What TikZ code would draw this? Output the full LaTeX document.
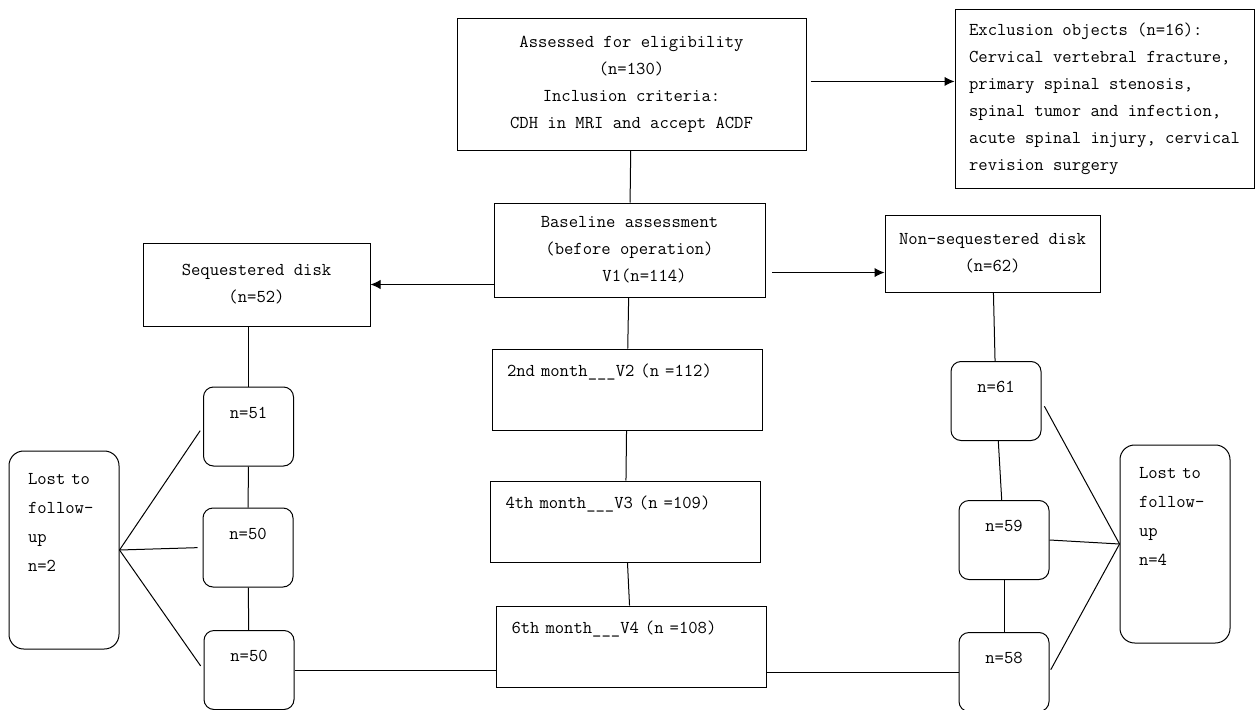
\documentclass[tikz,border=0pt]{standalone}
\usepackage{tikz}
\usetikzlibrary{arrows.meta}
\tikzstyle{blk}=[draw, rectangle, inner sep=0pt, align=center]
\tikzstyle{visit}=[draw, rectangle, inner xsep=11.25pt, inner ysep=0pt, text width=180pt, align=left, text height=20.6pt, text depth=40.15pt]
\tikzstyle{nbox}=[draw, rectangle, rounded corners=7.5pt, inner sep=0pt, text width=67.5pt, align=center, text height=23.6pt, text depth=35.65pt]
\tikzstyle{lost}=[draw, rectangle, rounded corners=11pt, inner xsep=14.25pt, inner ysep=0pt, text width=54pt, align=left, text height=24.75pt, text depth=123.75pt, font=\ttfamily\fontsize{13.6pt}{21.75pt}\selectfont]

\begin{document}
\begin{tikzpicture}
[x=0.75pt, y=-0.75pt, line width=0.75pt, font=\ttfamily\fontsize{13.6pt}{20.25pt}\selectfont]
 \useasboundingbox (0,0) rectangle (1256,710);
 \node[blk, minimum width=261.75pt, minimum height=98.25pt] (assess) at (631.5,84.5) {Assessed for eligibility\\(n=130)\\Inclusion criteria:\\CDH in MRI and accept ACDF};
 \node[blk, align=left, minimum width=224.25pt, minimum height=133.5pt] (excl) at (1104.5,99) {Exclusion objects (n=16):\\Cervical vertebral fracture,\\primary spinal stenosis,\\spinal tumor and infection,\\acute spinal injury, cervical\\revision surgery};
 \node[blk, minimum width=203.25pt, minimum height=70.5pt] (base) at (629.5,250) {Baseline assessment\\(before operation)\\\hspace*{22.5pt}V1(n=114)};
 \node[blk, minimum width=170.25pt, minimum height=62.25pt] (seq) at (256.5,284.5) {Sequestered disk\\(n=52)};
 \node[blk, minimum width=161.25pt, minimum height=57.75pt] (nonseq) at (992.5,253.5) {Non-sequestered disk\\(n=62)};
 \node[visit] (v2) at (627,389.5) {2nd month\_\_\_V2 (n =112)};
 \node[visit] (v3) at (625.5,521.5) {4th month\_\_\_V3 (n =109)};
 \node[visit] (v4) at (631.5,646.5) {6th month\_\_\_V4 (n =108)};
 \node[nbox] (l51) at (248.5,426.5) {n=51};
 \node[nbox] (l50a) at (248,547.5) {n=50};
 \node[nbox] (l50b) at (249,670) {n=50};
 \node[nbox] (r61) at (996,401) {n=61};
 \node[nbox] (r59) at (1004,540) {n=59};
 \node[nbox] (r58) at (1004,672) {n=58};
 \node[lost] (lostl) at (64,550) {Lost to\\follow-\\up\\n=2};
 \node[lost] (lostr) at (1175,544) {Lost to\\follow-\\up\\n=4};
 % arrows out of the two top boxes
 \path[-{Latex[length=7.5pt,width=7pt]}]
   (assess.1.5) edge[shorten <=3pt] (assess.1.5 -| excl.west)
   (seq.east -| base.west) edge (seq.east)
   (base.east |- nonseq.190) edge[shorten <=5pt] (nonseq.190);
 % plain connectors
 \path[]
   (assess) edge (base)
   (l51.north |- seq.south) edge (l51)
   (nonseq) edge (r61)
   (base) edge (v2)
   (v2) edge (v3)
   (v3) edge (v4)
   (l51) edge (l50a)
   (l50a) edge (l50b)
   (r61) edge (r59)
   (r59) edge (r58)
   (v4.west |- l50b) edge (l50b)
   (v4.east |- r58.west) edge (r58);
 % lost to follow-up
 \path[shorten >=3.75pt]
   (lostl.east) edge (l51.west)
   (lostl.east) edge (l50a.west)
   (lostl.east) edge (l50b.west);
 \path[]
   (r61.east) edge[shorten <=4.5pt] (lostr.west)
   (r59.east) edge (lostr.west)
   (r58.east) edge[shorten <=2pt] (lostr.west);
\end{tikzpicture}
\end{document}
